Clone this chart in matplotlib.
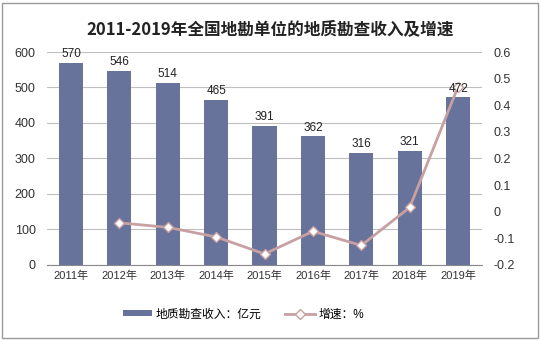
import numpy as np
import matplotlib.pyplot as plt
from matplotlib.lines import Line2D
from matplotlib.patches import Patch

plt.rcParams['font.family'] = ['Liberation Sans', 'Noto Sans CJK SC', 'DejaVu Sans']

years = ['2011年', '2012年', '2013年', '2014年', '2015年', '2016年', '2017年', '2018年', '2019年']
income = [570, 546, 514, 465, 391, 362, 316, 321, 472]
growth = [None, -0.042, -0.059, -0.095, -0.159, -0.074, -0.127, 0.016, 0.470]

bar_color = '#67739A'
line_color = '#C9A0A2'

fig = plt.figure(figsize=(5.41, 3.40), dpi=100)
ax = fig.add_axes([0.0865, 0.221, 0.805, 0.626])
x = np.arange(len(years))

ax.bar(x, income, width=0.5, color=bar_color, zorder=2)

ax.set_ylim(0, 600)
ax.set_yticks(range(0, 601, 100))
ax.set_xlim(-0.5, len(years) - 0.5)
ax.set_xticks(x)
ax.set_xticklabels(years)
ax.grid(axis='y', color='#BFBFBF', linewidth=0.8, zorder=0)
for s in ['top', 'left', 'right']:
    ax.spines[s].set_visible(False)
ax.spines['bottom'].set_color('#888888')
ax.tick_params(axis='y', length=0, labelsize=9, colors='#333333', pad=8)
ax.tick_params(axis='x', length=0, labelsize=8, colors='#333333', pad=4)

ax2 = ax.twinx()
gx = [xi for xi, g in zip(x, growth) if g is not None]
gy = [g for g in growth if g is not None]
ax2.plot(gx, gy, color=line_color, linewidth=2, marker='D', markersize=5,
         markerfacecolor='white', markeredgecolor=line_color, zorder=3)
ax2.set_ylim(-0.2, 0.6)
ticks2 = [0.6, 0.5, 0.4, 0.3, 0.2, 0.1, 0, -0.1, -0.2]
ax2.set_yticks(ticks2)
ax2.set_yticklabels(['0.6', '0.5', '0.4', '0.3', '0.2', '0.1', '0', '-0.1', '-0.2'])
for s in ['top', 'left', 'right', 'bottom']:
    ax2.spines[s].set_visible(False)
ax2.tick_params(axis='y', length=0, labelsize=9, colors='#333333', pad=8)

# bar value labels drawn above the growth line
for xi, v in zip(x, income):
    ax2.text(xi, v + 8, str(v), ha='center', va='bottom', fontsize=8.5, color='#222222',
             transform=ax.transData, zorder=5)

fig.text(0.5, 0.915, '2011-2019年全国地勘单位的地质勘查收入及增速', ha='center', va='center',
         fontsize=12, fontweight='bold', color='#222222', family=['Noto Sans CJK SC'])

handles = [Patch(facecolor=bar_color, edgecolor='none'),
           Line2D([0], [0], color=line_color, linewidth=2, marker='D', markersize=5,
                  markerfacecolor='white', markeredgecolor=line_color)]
fig.legend(handles, ['地质勘查收入：亿元', '增速：%'], loc='center', bbox_to_anchor=(0.45, 0.075),
           ncol=2, frameon=False, fontsize=8.5, handlelength=2.5, handleheight=0.4,
           columnspacing=2, handletextpad=0.3)

border = plt.Rectangle((0.004, 0.006), 0.99, 0.985, transform=fig.transFigure,
                       fill=False, edgecolor='#999999', linewidth=1)
fig.patches.append(border)

fig.savefig('out.png', dpi=100)
